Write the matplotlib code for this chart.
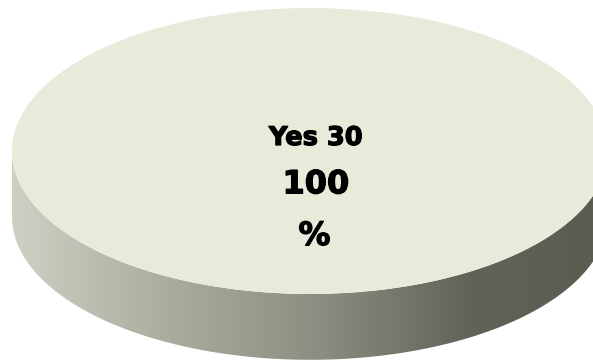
import numpy as np
import matplotlib
matplotlib.use('Agg')
import matplotlib.pyplot as plt
import matplotlib.patheffects as pe
from matplotlib.patches import Polygon
from matplotlib.colors import LinearSegmentedColormap

#-------------------------------------------------------------
# answers
labels = ['Yes']
values = [30]

#-------------------------------------------------------------
top_color = '#E7EBDA'
side_stops = [(0.00, '#CDD0C2'),
              (0.27, '#A9AC9D'),
              (0.52, '#8B8D80'),
              (0.77, '#626358'),
              (1.00, '#5A5B51')]
depth = 0.46  # disc thickness, in units of the vertical radius

fig = plt.figure(figsize=(5.93, 3.62), dpi=100)
ax = fig.add_axes([0, 0, 1, 1])

# top face of the disc
wedges, _ = ax.pie(values, colors=[top_color], startangle=90, radius=1,
                   center=(0, 0), wedgeprops={'linewidth': 0, 'zorder': 3})

# side of the disc: lower half of the rim, pushed down by depth
t = np.linspace(np.pi, 2 * np.pi, 200)
upper = np.column_stack([np.cos(t), np.sin(t)])
lower = np.column_stack([np.cos(t[::-1]), np.sin(t[::-1]) - depth])
side = Polygon(np.vstack([upper, lower]), closed=True, facecolor='none',
               edgecolor='none', zorder=1)
ax.add_patch(side)

cmap = LinearSegmentedColormap.from_list('side', side_stops)
grad = np.linspace(0, 1, 512).reshape(1, -1)
img = ax.imshow(grad, cmap=cmap, aspect='auto', extent=(-1, 1, -1 - depth, 0),
                zorder=2, interpolation='bilinear')
img.set_clip_path(side)

# labels: name + count, then percent (stroked a bit for a heavier look)
heavy = [pe.withStroke(linewidth=0.9, foreground='black')]
pct = values[0] / sum(values) * 100
ax.text(0.02, 0.042, '%s %d' % (labels[0], values[0]), ha='center', va='baseline',
        fontsize=18.5, fontweight='bold', family='DejaVu Sans', zorder=5,
        path_effects=heavy)
ax.text(0.02, -0.296, '%d' % round(pct), ha='center', va='baseline',
        fontsize=23, fontweight='bold', family='DejaVu Sans', zorder=5,
        path_effects=heavy)
ax.text(0.015, -0.657, '%', ha='center', va='baseline',
        fontsize=23, fontweight='bold', family='DejaVu Sans', zorder=5,
        path_effects=heavy)

ax.set_aspect('auto')
ax.set_xlim(-1.0403, 0.9497)
ax.set_ylim(-1.4755, 1.0559)
ax.axis('off')

plt.savefig('out.png', dpi=100, facecolor='white')
